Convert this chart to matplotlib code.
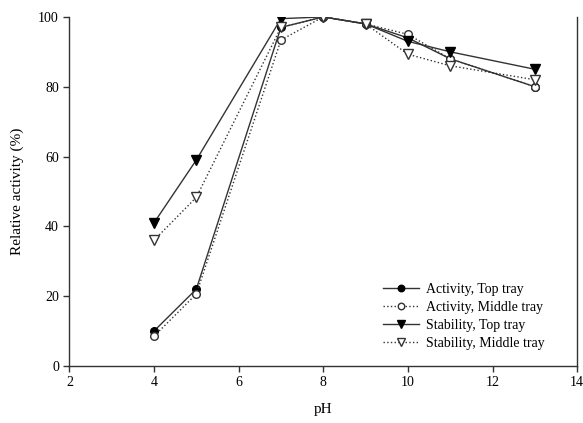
import matplotlib
matplotlib.use("Agg")
import matplotlib.pyplot as plt

ph = [4, 5, 7, 8, 9, 10, 11, 13]
act_top = [10, 22, 97, 100, 98, 94, 88, 80]
act_mid = [8.5, 20.6, 93.4, 100, 98, 95, 88, 80]
stab_top = [41, 59, 99.5, 100, 98, 93, 90, 85]
stab_mid = [36, 48.3, 97, 100, 98, 89.3, 86, 82]
labels = ["Activity, Top tray", "Activity, Middle tray",
          "Stability, Top tray", "Stability, Middle tray"]

plt.rcParams['font.family'] = ['Liberation Serif', 'DejaVu Serif']
fig = plt.figure(figsize=(5.83, 4.23), dpi=100)
ax = fig.add_axes([0.119, 0.135, 0.871, 0.825])

ax.plot(ph, act_top, '-', color='#333333', lw=1, marker='o', ms=5.5,
        mfc='black', mec='black', label=labels[0])
ax.plot(ph, act_mid, ':', color='#333333', lw=1, marker='o', ms=5.5,
        mfc='white', mec='#333333', label=labels[1])
ax.plot(ph, stab_top, '-', color='#333333', lw=1, marker='v', ms=6.5,
        mfc='black', mec='black', label=labels[2])
ax.plot(ph, stab_mid, ':', color='#333333', lw=1, marker='v', ms=6.5,
        mfc='white', mec='#333333', label=labels[3])

ax.set_xlim(2, 14)
ax.set_ylim(0, 100)
ax.set_xticks([2, 4, 6, 8, 10, 12, 14])
ax.set_yticks([0, 20, 40, 60, 80, 100])
ax.spines['top'].set_visible(False)
for s in ['left', 'bottom', 'right']:
    ax.spines[s].set_color('#333333')
    ax.spines[s].set_linewidth(1)
ax.tick_params(direction='out', length=4, width=1, labelsize=10, color='#333333')
ax.set_xlabel('pH', fontsize=11, labelpad=10)
ax.set_ylabel('Relative activity (%)', fontsize=11, labelpad=10)

leg = ax.legend(loc='lower right', bbox_to_anchor=(0.96, 0.01), frameon=False,
                fontsize=10, handlelength=2.6, labelspacing=0.36, handletextpad=0.5,
                markerscale=0.85)

fig.savefig('out.png', dpi=100)
